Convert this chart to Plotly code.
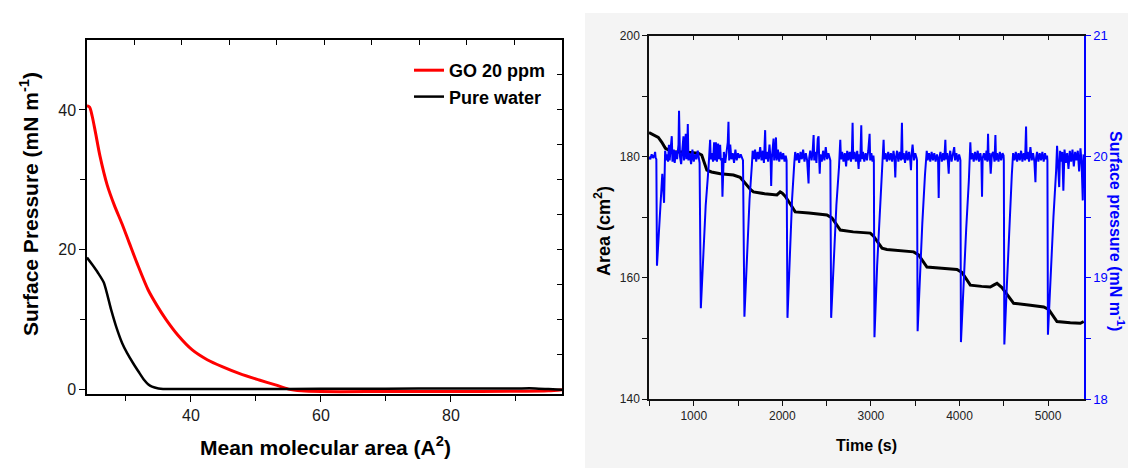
import plotly.graph_objects as go

# ---------------- Left panel data: isotherms ----------------
area_go = [24.0, 24.4, 24.8, 25.3, 26.0, 27.1, 28.2, 29.4, 30.5, 31.7, 33.4, 34.8, 36.2, 38.0,
           40.2, 42.5, 44.8, 47.5, 50.5, 53.0, 55.0, 57.0, 60.0, 70.0, 80.0, 90.0, 95.0, 97.1]
pi_go = [40.6, 40.4, 39.1, 36.8, 33.4, 29.3, 26.4, 23.7, 21.0, 18.1, 14.3, 12.0, 10.0, 7.8,
         5.7, 4.3, 3.3, 2.3, 1.4, 0.7, 0.1, -0.15, -0.25, -0.25, -0.25, -0.22, -0.15, 0.0]

area_water = [24.0, 24.8, 25.7, 26.6, 27.7, 28.5, 29.4, 30.2, 31.1, 32.0, 32.8, 33.4, 34.0, 35.0,
              35.7, 40.0, 50.0, 60.0, 70.0, 80.0, 90.0, 93.0, 95.0, 97.1]
pi_water = [18.9, 17.9, 16.7, 15.3, 11.5, 9.0, 6.7, 5.2, 3.8, 2.5, 1.4, 0.8, 0.45, 0.2,
            0.12, 0.1, 0.1, 0.15, 0.15, 0.2, 0.2, 0.2, 0.1, 0.0]

# ---------------- Right panel data: area vs time ----------------
time_area = [495, 520, 560, 600, 640, 680, 720, 770, 900, 1050, 1090, 1148, 1200, 1300, 1448, 1524,
             1560, 1640, 1674, 1800, 1939, 1976, 2000, 2032, 2090, 2145, 2300, 2503, 2560, 2610, 2654,
             2800, 2993, 3030, 3080, 3125, 3180, 3350, 3482, 3538, 3590, 3632, 3800, 3971, 4027, 4075,
             4122, 4250, 4347, 4385, 4423, 4479, 4545, 4611, 4800, 4950, 5006, 5055, 5100, 5250, 5364, 5402]
area_cm2 = [184.0, 183.8, 183.5, 183.2, 182.4, 181.4, 181.1, 180.8, 180.8, 180.6, 180.3, 177.8, 177.5,
            177.2, 177.0, 176.6, 176.0, 174.6, 174.2, 173.9, 173.7, 174.2, 174.0, 173.5, 172.2, 170.9,
            170.7, 170.4, 169.9, 168.8, 167.9, 167.6, 167.4, 166.9, 165.8, 164.9, 164.7, 164.5, 164.3,
            163.8, 162.6, 161.8, 161.6, 161.4, 160.9, 159.8, 158.8, 158.6, 158.5, 158.8, 159.1, 158.4,
            157.1, 155.8, 155.5, 155.2, 154.8, 153.7, 152.8, 152.6, 152.5, 152.8]

# surface pressure vs time (right axis)
time_press = [
    495, 510, 525, 540, 555, 564, 570, 578, 585, 617, 645, 665, 677, 692,
    700, 710, 720, 728, 740, 752, 760, 775, 785, 800, 812, 820, 828, 834, 845, 858, 870, 884, 890,
    910, 916, 926, 933, 940, 955, 970, 985, 1000, 1015, 1030, 1045, 1058,
    1066, 1080, 1110, 1135, 1166, 1185, 1192,
    1205, 1218, 1230, 1242, 1250, 1262, 1275, 1285, 1298, 1306, 1316, 1324, 1340, 1355, 1370, 1384,
    1392, 1400, 1412, 1425, 1440, 1455, 1470, 1485, 1500, 1515, 1530, 1545,
    1556, 1572, 1600, 1630, 1656, 1665,
    1680, 1692, 1705, 1720, 1735, 1750, 1765, 1780, 1792, 1806, 1813, 1825, 1840, 1855, 1868, 1874,
    1882, 1892, 1901, 1908, 1920, 1928, 1936, 1950, 1965, 1980, 1995, 2010, 2025, 2038,
    2048, 2058, 2085, 2110, 2135, 2145,
    2160, 2175, 2190, 2205, 2220, 2235, 2250, 2265, 2280, 2296, 2303, 2315, 2330, 2342, 2353, 2360,
    2372, 2385, 2400, 2409, 2416, 2422, 2430, 2445, 2460, 2475, 2490, 2505, 2520, 2535,
    2542, 2551, 2580, 2610, 2640, 2654, 2662,
    2675, 2690, 2705, 2720, 2732, 2745, 2760, 2775, 2786, 2793, 2800, 2815, 2830, 2845, 2855, 2861,
    2868, 2880, 2891, 2898, 2910, 2925, 2940, 2955, 2970, 2985, 2992, 3005, 3018, 3028,
    3033, 3040, 3070, 3100, 3130, 3143, 3150,
    3165, 3180, 3195, 3210, 3225, 3240, 3255, 3268, 3275, 3282, 3295, 3310, 3325, 3340, 3350, 3357,
    3370, 3385, 3400, 3415, 3430, 3445, 3452, 3459, 3470, 3485, 3500, 3515,
    3520, 3527, 3555, 3580, 3610, 3630, 3640,
    3655, 3670, 3685, 3700, 3715, 3730, 3745, 3758, 3765, 3772, 3785, 3800, 3815, 3828, 3840, 3847,
    3860, 3870, 3878, 3885, 3895, 3910, 3925, 3940, 3950, 3965, 3980, 3995, 4005,
    4010, 4016, 4045, 4075, 4105, 4122, 4130,
    4145, 4160, 4175, 4190, 4205, 4220, 4235, 4247, 4254, 4261, 4275, 4290, 4305, 4315, 4322, 4329,
    4340, 4352, 4365, 4380, 4395, 4405, 4412, 4425, 4440, 4455, 4470, 4485, 4497,
    4500, 4506, 4535, 4560, 4590, 4605,
    4620, 4635, 4650, 4665, 4680, 4695, 4710, 4725, 4740, 4751, 4758, 4770, 4785, 4800, 4815, 4830,
    4845, 4857, 4864, 4875, 4890, 4905, 4920, 4935, 4950, 4965, 4978, 4988,
    4992, 4998, 5030, 5060, 5090, 5101, 5110,
    5125, 5135, 5145, 5160, 5172, 5185, 5200, 5215, 5230, 5245, 5260, 5275, 5290, 5305, 5320, 5335,
    5350, 5365, 5378, 5391, 5400
]
pressure = [
    20.00, 19.98, 20.02, 19.99, 20.01, 20.04, 19.99, 19.98, 19.10, 19.53, 19.86, 19.62, 20.05, 19.97,
    20.02, 19.96, 20.10, 19.97, 20.08, 20.17, 19.96, 20.06, 19.95, 20.05, 19.98, 20.03, 20.10, 20.38, 20.00, 19.94, 20.03, 20.17, 19.97,
    20.19, 19.98, 20.05, 20.27, 19.97, 20.03, 19.94, 20.06, 19.96, 20.02, 19.98, 20.05, 19.99,
    19.95, 18.75, 19.25, 19.60, 19.90, 20.14, 19.98,
    20.03, 19.96, 20.12, 19.97, 20.12, 19.96, 20.11, 19.98, 20.10, 19.97, 19.99, 19.67, 20.04, 19.95, 20.03, 20.12,
    20.29, 19.97, 20.10, 19.98, 20.03, 19.95, 20.06, 19.97, 20.03, 19.99, 20.02, 19.98,
    19.97, 18.68, 19.20, 19.65, 19.93, 20.05,
    19.98, 20.06, 19.96, 20.04, 19.98, 20.08, 19.97, 20.05, 19.95, 20.22, 19.98, 20.04, 19.96, 20.10, 19.97, 19.76,
    19.99, 20.05, 20.15, 19.97, 20.03, 20.16, 19.97, 20.06, 19.96, 20.04, 19.98, 20.03, 19.96, 20.01,
    19.97, 18.67, 19.20, 19.65, 19.95, 20.04,
    19.97, 20.03, 19.95, 20.04, 19.98, 20.06, 19.96, 20.03, 19.97, 19.78, 19.99, 20.05, 19.97, 20.04, 20.18, 19.97,
    20.04, 19.95, 20.15, 20.17, 19.98, 19.86, 20.02, 19.96, 20.05, 19.97, 20.08, 19.98, 20.03, 19.99,
    19.97, 18.67, 19.20, 19.60, 19.92, 20.14, 19.98,
    20.04, 19.96, 20.03, 19.92, 20.05, 19.97, 20.04, 19.96, 20.06, 20.28, 19.98, 20.04, 19.96, 20.05, 19.97, 19.90,
    20.02, 19.96, 20.26, 19.98, 20.04, 19.96, 20.03, 19.97, 20.05, 20.19, 19.97, 20.03, 19.96, 20.01,
    19.97, 18.51, 19.10, 19.55, 19.90, 20.14, 19.98,
    20.03, 19.96, 20.04, 19.97, 20.03, 19.96, 20.05, 19.97, 19.83, 19.99, 20.05, 19.96, 20.04, 19.97, 20.28, 19.98,
    20.03, 19.95, 20.05, 19.97, 20.04, 19.96, 19.89, 20.02, 20.10, 19.97, 20.03, 19.99,
    19.97, 18.56, 19.05, 19.45, 19.85, 20.05, 19.97,
    20.03, 19.96, 20.04, 19.97, 20.03, 19.96, 20.02, 19.97, 19.66, 19.99, 20.04, 19.96, 20.03, 19.97, 20.14, 19.98,
    20.03, 19.95, 19.86, 20.00, 20.05, 19.96, 20.04, 20.08, 19.97, 20.03, 19.96, 20.02, 19.99,
    19.97, 18.47, 19.00, 19.40, 19.80, 20.12, 19.98,
    20.03, 19.96, 20.04, 19.97, 20.05, 19.96, 20.03, 19.97, 19.67, 19.99, 20.03, 19.97, 20.05, 19.96, 20.19, 19.97,
    20.03, 19.86, 20.02, 20.04, 19.96, 20.18, 19.97, 20.03, 19.96, 20.04, 19.97, 20.03, 20.01,
    19.97, 18.45, 18.95, 19.40, 19.85, 20.03,
    19.97, 20.04, 19.96, 20.03, 19.97, 20.05, 19.96, 20.03, 19.97, 20.25, 19.98, 20.04, 19.96, 20.08, 19.97, 20.03,
    19.96, 19.79, 19.99, 20.04, 19.96, 20.03, 19.97, 20.04, 19.96, 20.03, 19.98, 20.01,
    19.97, 18.53, 19.05, 19.50, 19.88, 20.09, 19.97,
    19.75, 20.05, 19.96, 20.04, 19.72, 20.06, 19.95, 20.03, 19.90, 20.05, 19.96, 20.06, 19.92, 20.04, 19.97, 20.05,
    19.88, 20.07, 19.95, 19.64, 20.02
]

legend_names = ["GO 20 ppm", "Pure water"]

FONT = "Arial, Liberation Sans, sans-serif"
BLUE = "#0000FF"

fig = go.Figure()

# Left panel traces
fig.add_trace(go.Scatter(x=area_go, y=pi_go, mode="lines", name=legend_names[0],
                         line=dict(color="#FF0000", width=3, shape="spline", smoothing=0.8),
                         xaxis="x", yaxis="y"))
fig.add_trace(go.Scatter(x=area_water, y=pi_water, mode="lines", name=legend_names[1],
                         line=dict(color="#000000", width=2.5, shape="spline", smoothing=0.6),
                         xaxis="x", yaxis="y"))

# Right panel traces
fig.add_trace(go.Scatter(x=time_press, y=pressure, mode="lines", showlegend=False,
                         line=dict(color=BLUE, width=2), xaxis="x2", yaxis="y3"))
fig.add_trace(go.Scatter(x=time_area, y=area_cm2, mode="lines", showlegend=False,
                         line=dict(color="#000000", width=3), xaxis="x2", yaxis="y2"))

# empty traces so the mirror axes exist
fig.add_trace(go.Scatter(x=[], y=[], showlegend=False, xaxis="x3", yaxis="y4"))
fig.add_trace(go.Scatter(x=[], y=[], showlegend=False, xaxis="x4", yaxis="y2"))

W, H = 1128, 468
lx0, lx1, ly0, ly1 = 87 / W, 562 / W, 1 - 394 / H, 1 - 40 / H
rx0, rx1, ry0, ry1 = 649 / W, 1084 / W, 1 - 399 / H, 1 - 35.7 / H

LX = [24, 97.1]
LY = [-0.6, 50]
RX = [495, 5405]

tick_l = dict(family=FONT, size=16, color="#1a1a1a")
tick_r = dict(family=FONT, size=12, color="#222222")


def title_ann(text, px, py, size, color="#000", angle=0):
    return dict(text=text, x=px / W, y=1 - py / H, xref="paper", yref="paper",
                xanchor="center", yanchor="middle", textangle=angle, showarrow=False,
                font=dict(family=FONT, size=size, color=color))


common = dict(showgrid=False, zeroline=False, automargin=False, showline=True, linewidth=1.5)

fig.update_layout(
    width=W, height=H,
    margin=dict(l=0, r=0, t=0, b=0, autoexpand=False),
    paper_bgcolor="white",
    plot_bgcolor="rgba(0,0,0,0)",
    showlegend=True,
    legend=dict(x=409 / W, y=1 - 52 / H, xanchor="left", yanchor="top",
                bgcolor="rgba(0,0,0,0)", borderwidth=0,
                font=dict(family=FONT, size=18, color="#000", weight=700),
                tracegroupgap=0, itemwidth=30),
    xaxis=dict(domain=[lx0, lx1], anchor="y", range=LX, linecolor="#000",
               tickmode="array", tickvals=[40, 60, 80], ticks="outside", ticklen=6,
               tickcolor="#000", tickwidth=1.2, tickfont=tick_l,
               minor=dict(tickmode="array", tickvals=[30, 50, 70, 90], ticks="outside",
                          ticklen=5, tickcolor="#000", tickwidth=1.2), **common),
    yaxis=dict(domain=[ly0, ly1], anchor="x", range=LY, linecolor="#000",
               tickmode="array", tickvals=[0, 20, 40], ticks="outside", ticklen=6,
               tickcolor="#000", tickwidth=1.2, tickfont=tick_l,
               minor=dict(tickmode="array", tickvals=[10, 30], ticks="outside",
                          ticklen=5, tickcolor="#000", tickwidth=1.2), **common),
    xaxis3=dict(overlaying="x", anchor="y4", side="top", range=LX, linecolor="#000",
                tickmode="linear", tick0=31.28, dtick=7.31, ticks="inside", ticklen=5,
                tickcolor="#000", tickwidth=1.2, showticklabels=False, **common),
    yaxis4=dict(overlaying="y", anchor="x3", side="right", range=LY, linecolor="#000",
                tickmode="linear", tick0=0, dtick=5, ticks="inside", ticklen=5,
                tickcolor="#000", tickwidth=1.2, showticklabels=False, **common),
    xaxis2=dict(domain=[rx0, rx1], anchor="y2", range=RX, linecolor="#111",
                tickmode="linear", tick0=0, dtick=1000, ticks="outside", ticklen=5,
                tickcolor="#111", tickwidth=1.2, tickfont=tick_r,
                minor=dict(tickmode="linear", tick0=500, dtick=1000, ticks="outside",
                           ticklen=5, tickcolor="#111", tickwidth=1.2), **common),
    yaxis2=dict(domain=[ry0, ry1], anchor="x2", range=[140, 200], linecolor="#111",
                tickmode="linear", tick0=140, dtick=20, ticks="outside", ticklen=5,
                tickcolor="#111", tickwidth=1.2, tickfont=tick_r,
                minor=dict(tickmode="linear", tick0=150, dtick=20, ticks="outside",
                           ticklen=5, tickcolor="#111", tickwidth=1.2), **common),
    yaxis3=dict(overlaying="y2", anchor="x2", side="right", range=[18, 21], linecolor=BLUE,
                tickmode="linear", tick0=18, dtick=1, ticks="outside", ticklen=5,
                tickcolor=BLUE, tickwidth=1.2,
                tickfont=dict(family=FONT, size=13, color=BLUE),
                minor=dict(tickmode="linear", tick0=18.5, dtick=1, ticks="outside",
                           ticklen=5, tickcolor=BLUE, tickwidth=1.2), **common),
    xaxis4=dict(overlaying="x2", anchor="y2", side="top", range=RX, linecolor="#111",
                tickmode="linear", tick0=500, dtick=500, ticks="inside", ticklen=5,
                tickcolor="#111", tickwidth=1.2, showticklabels=False, **common),
    shapes=[dict(type="rect", xref="paper", yref="paper", x0=585 / W, x1=1, y0=0,
                 y1=1 - 13 / H, fillcolor="#f4f4f4", line=dict(width=0), layer="below")],
    annotations=[
        title_ann("<b>Surface Pressure (mN m<sup>-1</sup>)</b>", 29, 204, 21, angle=-90),
        title_ann("<b>Mean molecular area (A<sup>2</sup>)</b>", 325, 446, 21),
        title_ann("<b>Area (cm<sup>2</sup>)</b>", 602, 231, 18, angle=-90),
        title_ann("<b>Time (s)</b>", 866, 445, 16),
        title_ann("<b>Surface pressure (mN m<sup>-1</sup>)</b>", 1117, 231, 16, color=BLUE, angle=90),
    ],
)

fig.write_html("out.html", config={"displayModeBar": False},
               post_script="document.body.style.margin='0';")
